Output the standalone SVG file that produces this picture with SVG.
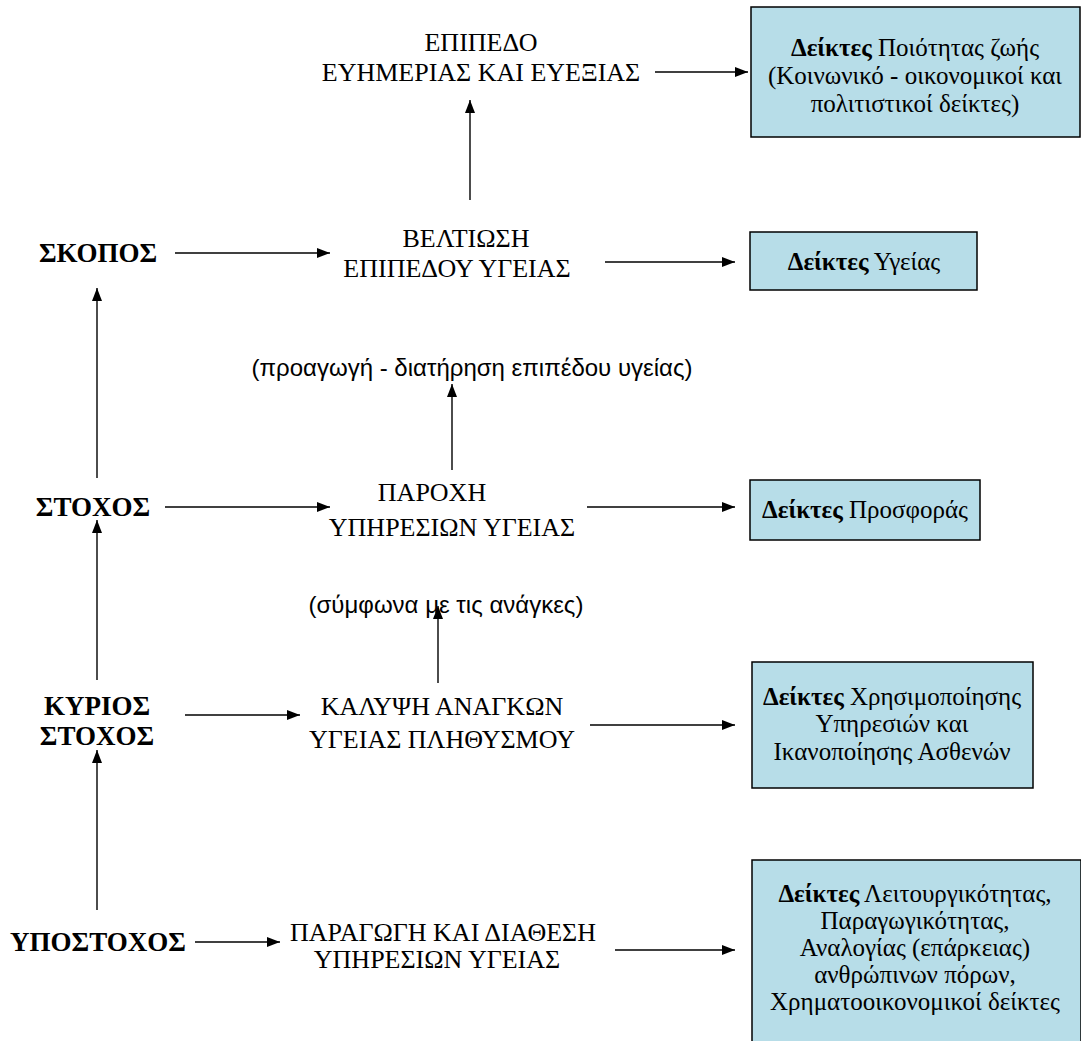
<svg xmlns="http://www.w3.org/2000/svg" width="1081" height="1041" viewBox="0 0 1081 1041">
<defs>
<marker id="ah" markerWidth="13" markerHeight="10" refX="13" refY="5" orient="auto" markerUnits="userSpaceOnUse">
<path d="M0,0 L13,5 L0,10 Z" fill="#000"/>
</marker>
<style>
.t{font-family:"Liberation Serif","Times New Roman",serif;font-size:26px;fill:#000;text-anchor:middle}
.l{font-family:"Liberation Serif","Times New Roman",serif;font-size:27px;font-weight:bold;fill:#000;text-anchor:middle}
.p{font-family:"Liberation Sans",Arial,sans-serif;font-size:24px;fill:#000;text-anchor:middle}
.b{font-family:"Liberation Serif","Times New Roman",serif;font-size:25px;fill:#000;text-anchor:middle}
.bx{fill:#B7DDE8;stroke:#000;stroke-width:1.5}
.c line{stroke:#000;stroke-width:1.4;marker-end:url(#ah)}
</style>
</defs>
<rect width="1081" height="1041" fill="#fff"/>

<g class="c" id="connectors">
<line x1="655" y1="72" x2="748" y2="72"/>
<line x1="470" y1="200" x2="470" y2="100"/>
<line x1="175" y1="253" x2="330" y2="253"/>
<line x1="605" y1="262" x2="735" y2="262"/>
<line x1="97" y1="478" x2="97" y2="288"/>
<line x1="452" y1="470" x2="452" y2="384"/>
<line x1="165" y1="507" x2="330" y2="507"/>
<line x1="587" y1="507" x2="735" y2="507"/>
<line x1="97" y1="680" x2="97" y2="520"/>
<line x1="438" y1="683" x2="438" y2="606"/>
<line x1="185" y1="715" x2="300" y2="715"/>
<line x1="590" y1="725" x2="735" y2="725"/>
<line x1="97" y1="910" x2="97" y2="750"/>
<line x1="195" y1="942" x2="280" y2="942"/>
<line x1="615" y1="950" x2="735" y2="950"/>
</g>

<g id="n-epipedo"><text class="t" x="481" y="51">ΕΠΙΠΕΔΟ</text><text class="t" x="481" y="81">ΕΥΗΜΕΡΙΑΣ ΚΑΙ ΕΥΕΞΙΑΣ</text></g>
<g id="n-box1"><rect class="bx" x="751" y="7" width="329" height="130"/>
<text class="b" x="915" y="56"><tspan font-weight="bold">Δείκτες</tspan> Ποιότητας ζωής</text>
<text class="b" x="915" y="84">(Κοινωνικό - οικονομικοί και</text>
<text class="b" x="915" y="112">πολιτιστικοί δείκτες)</text></g>

<g id="n-skopos"><text class="l" x="98" y="262">ΣΚΟΠΟΣ</text></g>
<g id="n-veltiosi"><text class="t" x="466" y="247">ΒΕΛΤΙΩΣΗ</text><text class="t" x="457" y="277">ΕΠΙΠΕΔΟΥ ΥΓΕΙΑΣ</text></g>
<g id="n-box2"><rect class="bx" x="750" y="232" width="227" height="58"/>
<text class="b" x="864" y="270"><tspan font-weight="bold">Δείκτες</tspan> Υγείας</text></g>

<g id="n-proagogi"><text class="p" x="472" y="376">(προαγωγή - διατήρηση επιπέδου υγείας)</text></g>

<g id="n-stochos"><text class="l" x="93" y="516">ΣΤΟΧΟΣ</text></g>
<g id="n-parochi"><text class="t" x="432" y="501">ΠΑΡΟΧΗ</text><text class="t" x="452" y="536">ΥΠΗΡΕΣΙΩΝ ΥΓΕΙΑΣ</text></g>
<g id="n-box3"><rect class="bx" x="750" y="480" width="230" height="60"/>
<text class="b" x="865" y="518"><tspan font-weight="bold">Δείκτες</tspan> Προσφοράς</text></g>

<g id="n-symfona"><text class="p" x="446" y="613">(σύμφωνα με τις ανάγκες)</text></g>

<g id="n-kyrios"><text class="l" x="97" y="715">ΚΥΡΙΟΣ</text><text class="l" x="97" y="745">ΣΤΟΧΟΣ</text></g>
<g id="n-kalypsi"><text class="t" x="442" y="715">ΚΑΛΥΨΗ ΑΝΑΓΚΩΝ</text><text class="t" x="442" y="748">ΥΓΕΙΑΣ ΠΛΗΘΥΣΜΟΥ</text></g>
<g id="n-box4"><rect class="bx" x="752" y="662" width="281" height="126"/>
<text class="b" x="892" y="705"><tspan font-weight="bold">Δείκτες</tspan> Χρησιμοποίησης</text>
<text class="b" x="892" y="732">Υπηρεσιών και</text>
<text class="b" x="892" y="760">Ικανοποίησης Ασθενών</text></g>

<g id="n-ypostochos"><text class="l" x="98" y="951">ΥΠΟΣΤΟΧΟΣ</text></g>
<g id="n-paragogi"><text class="t" x="443" y="941">ΠΑΡΑΓΩΓΗ ΚΑΙ ΔΙΑΘΕΣΗ</text><text class="t" x="437" y="968">ΥΠΗΡΕΣΙΩΝ ΥΓΕΙΑΣ</text></g>
<g id="n-box5"><rect class="bx" x="752" y="860" width="329" height="184"/>
<text class="b" x="915" y="902"><tspan font-weight="bold">Δείκτες</tspan> Λειτουργικότητας,</text>
<text class="b" x="915" y="929">Παραγωγικότητας,</text>
<text class="b" x="915" y="956">Αναλογίας (επάρκειας)</text>
<text class="b" x="915" y="983">ανθρώπινων πόρων,</text>
<text class="b" x="915" y="1010">Χρηματοοικονομικοί δείκτες</text></g>
</svg>
